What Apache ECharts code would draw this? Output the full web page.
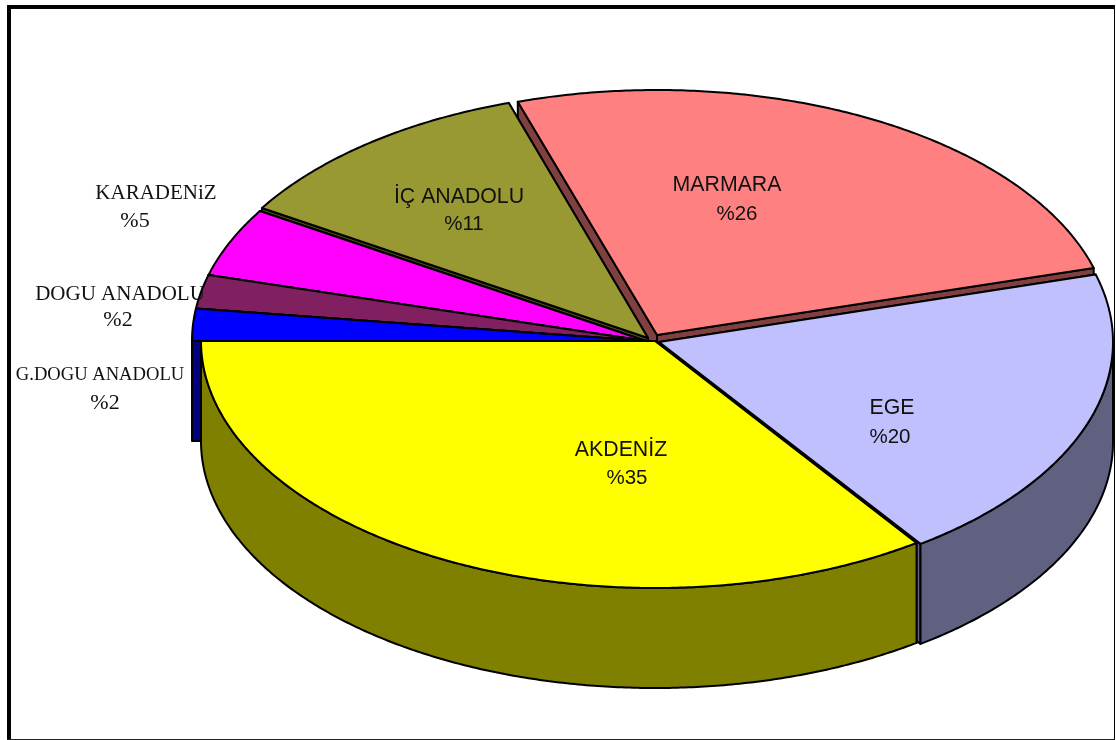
<!DOCTYPE html>
<html><head><meta charset="utf-8">
<script src="https://cdn.jsdelivr.net/npm/echarts@6/dist/echarts.min.js"></script>
<style>html,body{margin:0;padding:0;background:#fff}#c{width:1116px;height:740px}</style>
</head><body><div id="c"></div>
<script>
// Data (going round the pie from 9 o'clock through the bottom)
const regions = ['AKDENİZ','EGE','MARMARA','İÇ ANADOLU','KARADENiZ','DOGU ANADOLU','G.DOGU ANADOLU'];
const shares  = [34.7, 19.6, 25.5, 11.2, 4.5, 2.2, 2.1];
const percentLabels = ['%35','%20','%26','%11','%5','%2','%2'];

// Layout and style, separate from data
const RX = 454, DEPTH = 100, START_ANGLE = 180;
const sliceRY = [247,247,245,247,247,247,247];
const sliceCenters = [[655,341],[659,342],[657,335],[648,338],[646,341],[646,341],[646,341]];
const topColors  = ['#ffff00','#c0c0ff','#ff8080','#999933','#ff00ff','#802060','#0000ff'];
const wallColors = ['#808000','#606080','#804040','#4c4c19','#800080','#401030','#000080'];
const paintRank  = [7,6,1,2,3,4,5];
const nameAnchors = [[621,450],[892,408],[727,185],[459,197],[156,193],[120,294],[100,375]];
const pctAnchors  = [[627,478],[890,437],[737,214],[464,224],[135,221],[118,320],[105,403]];
const fonts = ['Liberation Sans','Liberation Sans','Liberation Sans','Liberation Sans','Liberation Serif','Liberation Serif','Liberation Serif'];
const nameSizes = [21.3,21.3,21.3,21.3,21,21,18.6];
const pctSizes  = [20.5,20.5,20.5,20.5,22,22,22];

const total = shares.reduce((a,b)=>a+b,0);
const rad = d => d*Math.PI/180;
function arc(c, ry, a, b){            // a > b, in degrees; screen angle
  const pts=[]; const n=Math.max(2,Math.ceil((a-b)*2));
  for(let i=0;i<=n;i++){ const t=rad(a+(b-a)*i/n); pts.push([c[0]+RX*Math.cos(t), c[1]+ry*Math.sin(t)]); }
  return pts;
}
const down = p => [p[0], p[1]+DEPTH];

function renderItem(params, api){
  const i = params.dataIndex;
  const before = shares.slice(0,i).reduce((a,b)=>a+b,0);
  const a = START_ANGLE - before/total*360;
  const b = a - api.value(0)/total*360;
  const c = sliceCenters[i], ry = sliceRY[i];
  const base = paintRank[i]*10;
  const line = {stroke:'#000', lineWidth:2, lineJoin:'round'};
  const children = [];
  const pts = arc(c,ry,a,b);
  // radial cut faces
  [pts[0], pts[pts.length-1]].forEach(e=>{
    children.push({type:'polygon', z2:base, shape:{points:[c,e,down(e),down(c)]},
      style:Object.assign({fill:wallColors[i]},line)});
  });
  // curved outer wall for the part on the near side
  const hi = Math.min(a,180), lo = Math.max(b,0);
  if(hi>lo){
    const w = arc(c,ry,hi,lo);
    children.push({type:'polygon', z2:base+1, shape:{points:w.concat(w.map(down).reverse())},
      style:Object.assign({fill:wallColors[i]},line)});
  }
  // top
  children.push({type:'polygon', z2:base+2, shape:{points:[c].concat(pts)},
    style:Object.assign({fill:topColors[i]},line)});
  // labels
  children.push({type:'text', z2:200, style:{x:nameAnchors[i][0], y:nameAnchors[i][1], text:regions[i], align:'center', verticalAlign:'middle', fill:'#111', font:nameSizes[i]+'px "'+fonts[i]+'"'}});
  children.push({type:'text', z2:200, style:{x:pctAnchors[i][0], y:pctAnchors[i][1], text:percentLabels[i], align:'center', verticalAlign:'middle', fill:'#111', font:pctSizes[i]+'px "'+fonts[i]+'"'}});
  return {type:'group', children};
}

const chart = echarts.init(document.getElementById('c'), null, {renderer:'canvas'});
chart.setOption({
  animation:false,
  backgroundColor:'#fff',
  graphic:[
    {type:'rect', shape:{x:7,y:5,width:4,height:735}, style:{fill:'#000'}},
    {type:'rect', shape:{x:7,y:5,width:1108,height:4}, style:{fill:'#000'}},
    {type:'rect', shape:{x:1114,y:5,width:1,height:735}, style:{fill:'#000'}},
    {type:'rect', shape:{x:7,y:739,width:1108,height:1}, style:{fill:'#222'}}
  ],
  series:[{
    type:'custom',
    coordinateSystem:'none',
    silent:true,
    clip:false,
    renderItem,
    data: shares.map((v,i)=>({name:regions[i], value:[v]}))
  }]
});
</script></body></html>
